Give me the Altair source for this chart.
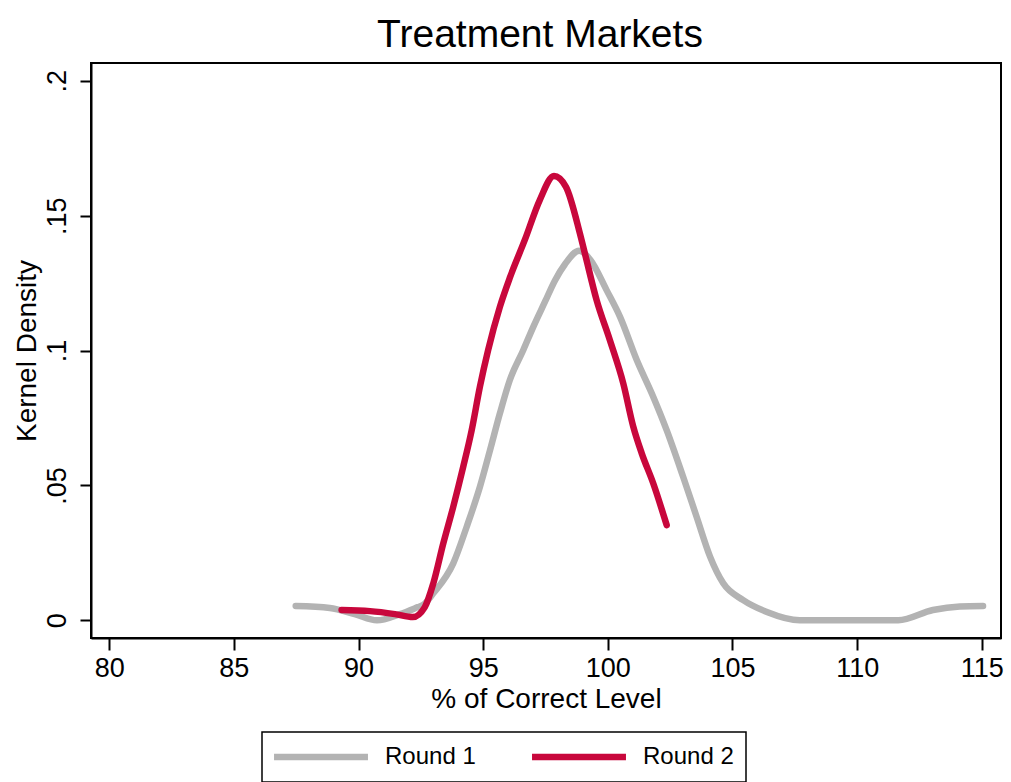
import altair as alt
import pandas as pd

# Round 1 kernel density
r1_x = [87.48, 88.85, 89.85, 90.74, 91.66, 92.38, 92.59, 93.0, 93.8, 94.34, 94.87, 95.27,
        95.67, 96.07, 96.61, 97.01, 97.48, 97.88, 98.28, 98.85, 99.31, 99.95, 100.49,
        101.16, 101.82, 102.36, 103.02, 103.56, 104.1, 104.63, 105.43, 106.38, 107.7,
        109.7, 111.65, 113.04, 114.12, 115.05]
r1_y = [0.0053, 0.0046, 0.0023, 0.0, 0.0023, 0.0049, 0.0057, 0.010, 0.0211, 0.0347, 0.0495,
        0.0629, 0.0767, 0.0891, 0.1002, 0.1088, 0.1181, 0.126, 0.132, 0.137, 0.1335, 0.1224,
        0.1125, 0.0965, 0.0829, 0.0705, 0.0532, 0.0384, 0.0236, 0.0137, 0.0075, 0.0031, 0.0,
        0.0, 0.0, 0.0038, 0.0051, 0.0053]

# Round 2 kernel density
r2_x = [89.32, 90.46, 91.46, 92.18, 92.66, 93.0, 93.4, 93.8, 94.2, 94.54, 94.87, 95.2, 95.67,
        96.07, 96.67, 97.27, 97.84, 98.32, 98.88, 99.08, 99.55, 100.08, 100.62, 101.02,
        101.36, 101.82, 102.36]
r2_y = [0.0038, 0.0034, 0.0023, 0.0012, 0.0049, 0.0137, 0.0285, 0.0421, 0.0569, 0.0705,
        0.0866, 0.1002, 0.1162, 0.127, 0.141, 0.1558, 0.1647, 0.1607, 0.1434, 0.136, 0.1187,
        0.1039, 0.0878, 0.0718, 0.0619, 0.0508, 0.0353]

series_names = ["Round 1", "Round 2"]
series_colors = ["#b3b3b3", "#c8073c"]
x_ticks = [80, 85, 90, 95, 100, 105, 110, 115]
y_ticks = [0, 0.05, 0.1, 0.15, 0.2]

df = pd.concat([
    pd.DataFrame({"x": r1_x, "y": r1_y, "series": series_names[0], "ord": range(len(r1_x))}),
    pd.DataFrame({"x": r2_x, "y": r2_y, "series": series_names[1], "ord": range(len(r2_x))}),
])

FONT = "Liberation Sans"

chart = alt.Chart(df).mark_line(
    strokeWidth=6.5, strokeCap="round", strokeJoin="round", interpolate="monotone", clip=False
).encode(
    x=alt.X("x:Q",
            scale=alt.Scale(domain=[79.27, 115.77], nice=False, zero=False),
            axis=alt.Axis(values=x_ticks, title="% of Correct Level",
                          titleX=455, titleY=69, titleBaseline="alphabetic", titleAlign="center",
                          labelBaseline="alphabetic", labelPadding=26, tickSize=12)),
    y=alt.Y("y:Q",
            scale=alt.Scale(domain=[-0.00656, 0.2066], nice=False, zero=False),
            axis=alt.Axis(values=y_ticks, title="Kernel Density",
                          labelExpr="datum.value == 0 ? '0' : replace(format(datum.value, '.2~f'), '0.', '.')",
                          labelAngle=270, labelAlign="center", labelBaseline="alphabetic",
                          labelPadding=15, tickSize=11,
                          titleAngle=270, titleX=-56, titleY=287.5, titleAlign="center",
                          titleBaseline="alphabetic")),
    color=alt.Color("series:N",
                    scale=alt.Scale(domain=series_names, range=series_colors),
                    legend=alt.Legend(title=None, orient="none", legendX=171, legendY=669,
                                      direction="horizontal")),
    detail="series:N",
    order="ord:Q",
).properties(
    width=910, height=575,
    title=alt.Title("Treatment Markets", fontSize=39, font=FONT, fontWeight="normal",
                    color="black", anchor="middle", baseline="alphabetic", offset=16,
                    dx=-6, dy=39),
    autosize=alt.AutoSizeParams(type="none"),
    padding={"left": 91, "top": 63, "right": 10, "bottom": 144},
    background="white",
).configure_view(
    stroke="black", strokeWidth=2
).configure_axis(
    grid=False, domainColor="black", domainWidth=2, tickColor="black", tickWidth=2,
    labelFont=FONT, labelFontSize=27, labelColor="black",
    titleFont=FONT, titleFontSize=28, titleColor="black", titleFontWeight="normal",
).configure_legend(
    symbolType="M-5,0L5,0", symbolSize=353, symbolStrokeWidth=6.5, symbolOffset=34,
    labelFont=FONT, labelFontSize=24, labelColor="black", labelOffset=51,
    columnPadding=43, padding=12, strokeColor="black", strokeWidth=1.5,
)

chart.save("out.html", embed_options={"renderer": "svg", "actions": False})
